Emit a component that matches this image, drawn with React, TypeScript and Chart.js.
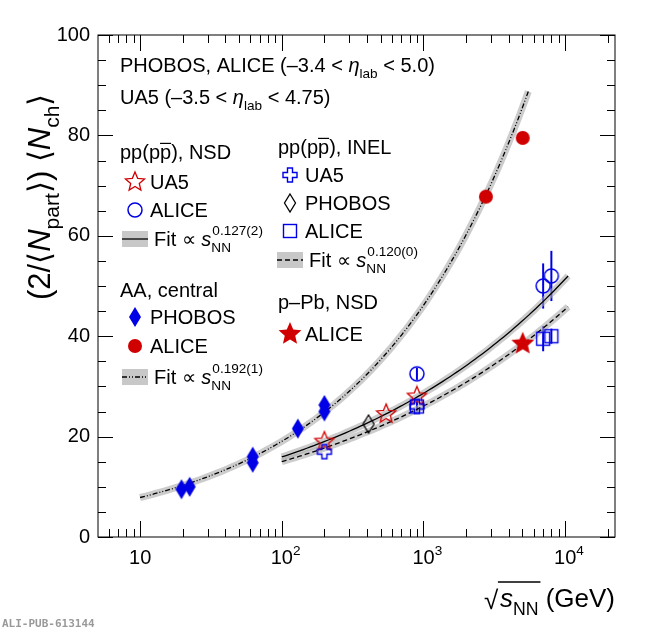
import React, { useEffect, useRef } from "react";
import { Chart, registerables } from "chart.js";
Chart.register(...registerables);

const BLUE = "#0000e6";
const RED = "#d00000";
const FONT = "'Liberation Sans', Arial, sans-serif";

// data
const phobosAA_x = [19.6, 22.4, 62.4, 62.4, 130, 200, 200];
const phobosAA_y = [9.5, 10.0, 14.8, 16.0, 21.6, 25.0, 26.3];
const aliceAA_x = [2760, 5020];
const aliceAA_y = [67.8, 79.5];
const ua5NSD_x = [200, 546, 900];
const ua5NSD_y = [19.0, 24.5, 28.0];
const aliceNSD_x = [900, 7000, 8000];
const aliceNSD_y = [32.5, 50.0, 52.0];
const aliceNSD_err = [1.2, 4.5, 5.0];
const ua5INEL_x = [200, 900];
const ua5INEL_y = [17.0, 26.0];
const phobosINEL_x = [410];
const phobosINEL_y = [22.5];
const aliceINEL_x = [900, 7000, 8000];
const aliceINEL_y = [26.0, 39.5, 40.0];
const aliceINEL_err = [1.0, 2.5, 1.5];
const pPb_x = [5020];
const pPb_y = [38.5];
// fit parameters: N = A * sqrt(s)^(2*b)
const fitAA = { A: 3.25, b: 0.192, from: 10, to: 5500 };
const fitNSD = { A: 4.95, b: 0.127, from: 100, to: 10500 };
const fitINEL = { A: 4.97, b: 0.12, from: 100, to: 10500 };
const yTicks = [0, 20, 40, 60, 80, 100];
const xTickExp = [1, 2, 3, 4];

function fitPts(f: { A: number; b: number; from: number; to: number }) {
  const pts: { x: number; y: number }[] = [];
  const n = 80;
  const l0 = Math.log10(f.from), l1 = Math.log10(f.to);
  for (let i = 0; i <= n; i++) {
    const x = Math.pow(10, l0 + ((l1 - l0) * i) / n);
    pts.push({ x, y: f.A * Math.pow(x, 2 * f.b) });
  }
  return pts;
}
const zip = (xs: number[], ys: number[]) => xs.map((x, i) => ({ x, y: ys[i] }));

function mk(w: number, h: number, draw: (c: CanvasRenderingContext2D) => void) {
  const c = document.createElement("canvas");
  c.width = w; c.height = h;
  const ctx = c.getContext("2d")!;
  ctx.translate(w / 2, h / 2);
  draw(ctx);
  return c;
}
function starPath(c: CanvasRenderingContext2D, R: number, r: number) {
  c.beginPath();
  for (let i = 0; i < 10; i++) {
    const a = -Math.PI / 2 + (i * Math.PI) / 5;
    const rr = i % 2 ? r : R;
    c.lineTo(rr * Math.cos(a), rr * Math.sin(a));
  }
  c.closePath();
}
function markers() {
  return {
    diamondF: mk(16, 22, (c) => { c.fillStyle = BLUE; c.beginPath(); c.moveTo(0, -10); c.lineTo(6, 0); c.lineTo(0, 10); c.lineTo(-6, 0); c.closePath(); c.fill(); }),
    diamondO: mk(16, 22, (c) => { c.strokeStyle = "#000"; c.lineWidth = 1.3; c.beginPath(); c.moveTo(0, -9); c.lineTo(5.5, 0); c.lineTo(0, 9); c.lineTo(-5.5, 0); c.closePath(); c.stroke(); }),
    circF: mk(18, 18, (c) => { c.fillStyle = RED; c.beginPath(); c.arc(0, 0, 7, 0, Math.PI * 2); c.fill(); }),
    circO: mk(18, 18, (c) => { c.strokeStyle = BLUE; c.lineWidth = 1.5; c.beginPath(); c.arc(0, 0, 7, 0, Math.PI * 2); c.stroke(); }),
    starO: mk(24, 24, (c) => { c.strokeStyle = RED; c.lineWidth = 1.3; starPath(c, 10, 4.5); c.stroke(); }),
    starF: mk(28, 28, (c) => { c.fillStyle = RED; starPath(c, 12, 5.5); c.fill(); }),
    squareO: mk(18, 18, (c) => { c.strokeStyle = BLUE; c.lineWidth = 1.4; c.strokeRect(-6.5, -6.5, 13, 13); }),
    crossO: mk(20, 20, (c) => {
      c.strokeStyle = BLUE; c.lineWidth = 1.4; const a = 2.5, b = 7;
      c.beginPath(); c.moveTo(-a, -b); c.lineTo(a, -b); c.lineTo(a, -a); c.lineTo(b, -a); c.lineTo(b, a); c.lineTo(a, a); c.lineTo(a, b); c.lineTo(-a, b); c.lineTo(-a, a); c.lineTo(-b, a); c.lineTo(-b, -a); c.lineTo(-a, -a); c.closePath(); c.stroke();
    }),
  };
}

type Part = { t: string; s?: "sub" | "sup"; it?: boolean; ov?: boolean };
function rich(ctx: CanvasRenderingContext2D, x: number, y: number, parts: Part[], size: number, color = "#000") {
  ctx.save();
  ctx.fillStyle = color; ctx.strokeStyle = color; ctx.textBaseline = "alphabetic"; ctx.textAlign = "left";
  let cx = x;
  for (const p of parts) {
    const sz = p.s ? size * 0.68 : size;
    ctx.font = `${p.it ? "italic " : ""}${sz}px ${FONT}`;
    const dy = p.s === "sub" ? size * 0.3 : p.s === "sup" ? -size * 0.45 : 0;
    ctx.fillText(p.t, cx, y + dy);
    const w = ctx.measureText(p.t).width;
    if (p.ov) { ctx.lineWidth = 1.2; ctx.beginPath(); ctx.moveTo(cx, y + dy - sz * 0.78); ctx.lineTo(cx + w, y + dy - sz * 0.78); ctx.stroke(); }
    cx += w;
  }
  ctx.restore();
  return cx - x;
}
function richWidth(ctx: CanvasRenderingContext2D, parts: Part[], size: number) {
  let w = 0;
  for (const p of parts) { const sz = p.s ? size * 0.68 : size; ctx.font = `${p.it ? "italic " : ""}${sz}px ${FONT}`; w += ctx.measureText(p.t).width; }
  return w;
}

export default function App() {
  const ref = useRef<HTMLCanvasElement>(null);
  useEffect(() => {
    document.body.style.margin = "0";
    const M = markers();
    const overlay = {
      id: "overlay",
      beforeDatasetsDraw(chart: any) {
        const ctx = chart.ctx as CanvasRenderingContext2D;
        const xs = chart.scales.x, ys = chart.scales.y;
        ctx.save(); ctx.strokeStyle = BLUE; ctx.lineWidth = 2;
        const eb = (xa: number[], ya: number[], ea: number[]) => xa.forEach((x, i) => {
          const px = xs.getPixelForValue(x);
          ctx.beginPath(); ctx.moveTo(px, ys.getPixelForValue(ya[i] - ea[i])); ctx.lineTo(px, ys.getPixelForValue(ya[i] + ea[i])); ctx.stroke();
        });
        eb(aliceNSD_x, aliceNSD_y, aliceNSD_err); eb(aliceINEL_x, aliceINEL_y, aliceINEL_err);
        ctx.restore();
      },
      afterDraw(chart: any) {
        const ctx = chart.ctx as CanvasRenderingContext2D;
        const a = chart.chartArea; const xs = chart.scales.x, ys = chart.scales.y;
        ctx.save();
        ctx.strokeStyle = "#000"; ctx.lineWidth = 1;
        ctx.strokeRect(a.left, a.top, a.right - a.left, a.bottom - a.top);
        for (let v = 0; v <= 100; v += 5) {
          const py = Math.round(ys.getPixelForValue(v)) + 0.5; const L = v % 20 === 0 ? 15 : 8;
          ctx.beginPath(); ctx.moveTo(a.left, py); ctx.lineTo(a.left + L, py); ctx.moveTo(a.right, py); ctx.lineTo(a.right - L, py); ctx.stroke();
        }
        for (let e = 0; e <= 4; e++) for (let m = 1; m <= 9; m++) {
          const v = m * Math.pow(10, e);
          if (v < xs.min || v > xs.max) continue;
          const px = Math.round(xs.getPixelForValue(v)) + 0.5; const L = m === 1 ? 16 : 8;
          ctx.beginPath(); ctx.moveTo(px, a.bottom); ctx.lineTo(px, a.bottom - L); ctx.moveTo(px, a.top); ctx.lineTo(px, a.top + L); ctx.stroke();
        }
        ctx.fillStyle = "#000"; ctx.font = `20px ${FONT}`; ctx.textAlign = "right"; ctx.textBaseline = "middle";
        yTicks.forEach((v) => ctx.fillText(String(v), a.left - 8, ys.getPixelForValue(v)));
        xTickExp.forEach((e) => {
          const px = xs.getPixelForValue(Math.pow(10, e));
          const parts: Part[] = e === 1 ? [{ t: "10" }] : [{ t: "10" }, { t: String(e), s: "sup" }];
          rich(ctx, px - 11, a.bottom + 27, parts, 20);
        });
        const xt: Part[] = [{ t: "s", it: true }, { t: "NN", s: "sub" }, { t: " (GeV)" }];
        const xw = richWidth(ctx, xt, 26);
        const x0 = a.right - xw;
        rich(ctx, x0, 607, xt, 26);
        ctx.font = `26px ${FONT}`;
        ctx.textAlign = "left"; ctx.textBaseline = "alphabetic";
        ctx.fillText("√", x0 - 16, 609);
        ctx.lineWidth = 1.3; ctx.beginPath(); ctx.moveTo(x0 - 2, 582); ctx.lineTo(x0 + richWidth(ctx, xt.slice(0, 2), 26) + 2, 582); ctx.stroke();
        ctx.save(); ctx.translate(50, 300); ctx.rotate(-Math.PI / 2);
        rich(ctx, 0, 0, [{ t: "(2/⟨" }, { t: "N", it: true }, { t: "part", s: "sub" }, { t: "⟩) ⟨" }, { t: "N", it: true }, { t: "ch", s: "sub" }, { t: "⟩" }], 31);
        ctx.restore();
        ctx.font = `bold 11px 'DejaVu Sans Mono', monospace`; ctx.fillStyle = "#999";
        ctx.fillText("ALI-PUB-613144", 2, 627);
        const S = 20;
        rich(ctx, 120, 72, [{ t: "PHOBOS, ALICE (–3.4 < " }, { t: "η", it: true }, { t: "lab", s: "sub" }, { t: " < 5.0)" }], S);
        rich(ctx, 120, 104, [{ t: "UA5 (–3.5 < " }, { t: "η", it: true }, { t: "lab", s: "sub" }, { t: " < 4.75)" }], S);
        const ppbar = (x: number, y: number, tail: string) => rich(ctx, x, y, [{ t: "pp(p" }, { t: "p", ov: true }, { t: ")" + tail }], S);
        ppbar(120, 159, ", NSD");
        ppbar(278, 154, ", INEL");
        const mark = (img: HTMLCanvasElement, x: number, y: number) => ctx.drawImage(img, x - img.width / 2, y - img.height / 2);
        const fitEntry = (x: number, y: number, dash: number[], exp: string) => {
          ctx.fillStyle = "#c8c8c8"; ctx.fillRect(x - 13, y - 8, 26, 16);
          ctx.strokeStyle = "#000"; ctx.lineWidth = 1.3; ctx.setLineDash(dash);
          ctx.beginPath(); ctx.moveTo(x - 13, y); ctx.lineTo(x + 13, y); ctx.stroke(); ctx.setLineDash([]);
          rich(ctx, x + 19, y + 7, [{ t: "Fit ∝ " }, { t: "s", it: true }, { t: "NN", s: "sub" }], S);
          const w = richWidth(ctx, [{ t: "Fit ∝ " }, { t: "s", it: true }], S);
          rich(ctx, x + 19 + w + 1, y + 5, [{ t: exp, s: "sup" }], S);
        };
        mark(M.starO, 135, 182); rich(ctx, 150, 189, [{ t: "UA5" }], S);
        mark(M.circO, 135, 210); rich(ctx, 150, 217, [{ t: "ALICE" }], S);
        fitEntry(135, 239, [], "0.127(2)");
        rich(ctx, 120, 297, [{ t: "AA, central" }], S);
        mark(M.diamondF, 135, 317); rich(ctx, 150, 324, [{ t: "PHOBOS" }], S);
        mark(M.circF, 135, 346); rich(ctx, 150, 353, [{ t: "ALICE" }], S);
        fitEntry(135, 377, [5, 2, 1, 2, 1, 2], "0.192(1)");
        mark(M.crossO, 290, 175); rich(ctx, 305, 182, [{ t: "UA5" }], S);
        mark(M.diamondO, 290, 203); rich(ctx, 305, 210, [{ t: "PHOBOS" }], S);
        mark(M.squareO, 290, 231); rich(ctx, 305, 238, [{ t: "ALICE" }], S);
        fitEntry(290, 260, [5, 3], "0.120(0)");
        rich(ctx, 278, 309, [{ t: "p–Pb, NSD" }], S);
        mark(M.starF, 290, 334); rich(ctx, 305, 341, [{ t: "ALICE" }], S);
        ctx.restore();
      },
    };
    const band = (data: any[], order: number) => ({ type: "line", data, borderColor: "rgba(170,170,170,0.6)", borderWidth: 7, pointRadius: 0, order, showLine: true });
    const line = (data: any[], dash: number[], order: number) => ({ type: "line", data, borderColor: "#000", borderWidth: 1.3, borderDash: dash, pointRadius: 0, order, showLine: true });
    const pts = (data: any[], img: HTMLCanvasElement, order = 1) => ({ type: "scatter", data, pointStyle: img, pointRadius: 8, order });
    const chart = new Chart(ref.current!, {
      type: "scatter",
      data: {
        datasets: [
          band(fitPts(fitAA), 10), line(fitPts(fitAA), [5, 2, 1, 2, 1, 2], 9),
          band(fitPts(fitNSD), 10), line(fitPts(fitNSD), [], 9),
          band(fitPts(fitINEL), 10), line(fitPts(fitINEL), [5, 3], 9),
          pts(zip(phobosAA_x, phobosAA_y), M.diamondF),
          pts(zip(aliceAA_x, aliceAA_y), M.circF),
          pts(zip(aliceINEL_x, aliceINEL_y), M.squareO),
          pts(zip(ua5INEL_x, ua5INEL_y), M.crossO),
          pts(zip(phobosINEL_x, phobosINEL_y), M.diamondO),
          pts(zip(ua5NSD_x, ua5NSD_y), M.starO),
          pts(zip(aliceNSD_x, aliceNSD_y), M.circO),
          pts(zip(pPb_x, pPb_y), M.starF),
        ] as any,
      },
      options: {
        animation: false, responsive: false, devicePixelRatio: 1,
        layout: { padding: { left: 98, right: 35, top: 35, bottom: 95 } },
        plugins: { legend: { display: false }, tooltip: { enabled: false } },
        scales: {
          x: { type: "logarithmic", min: 5.05, max: 22500, display: false },
          y: { type: "linear", min: 0, max: 100, display: false },
        },
      },
      plugins: [overlay],
    });
    return () => chart.destroy();
  }, []);
  return <canvas ref={ref} width={650} height={632} style={{ display: "block" }} />;
}
